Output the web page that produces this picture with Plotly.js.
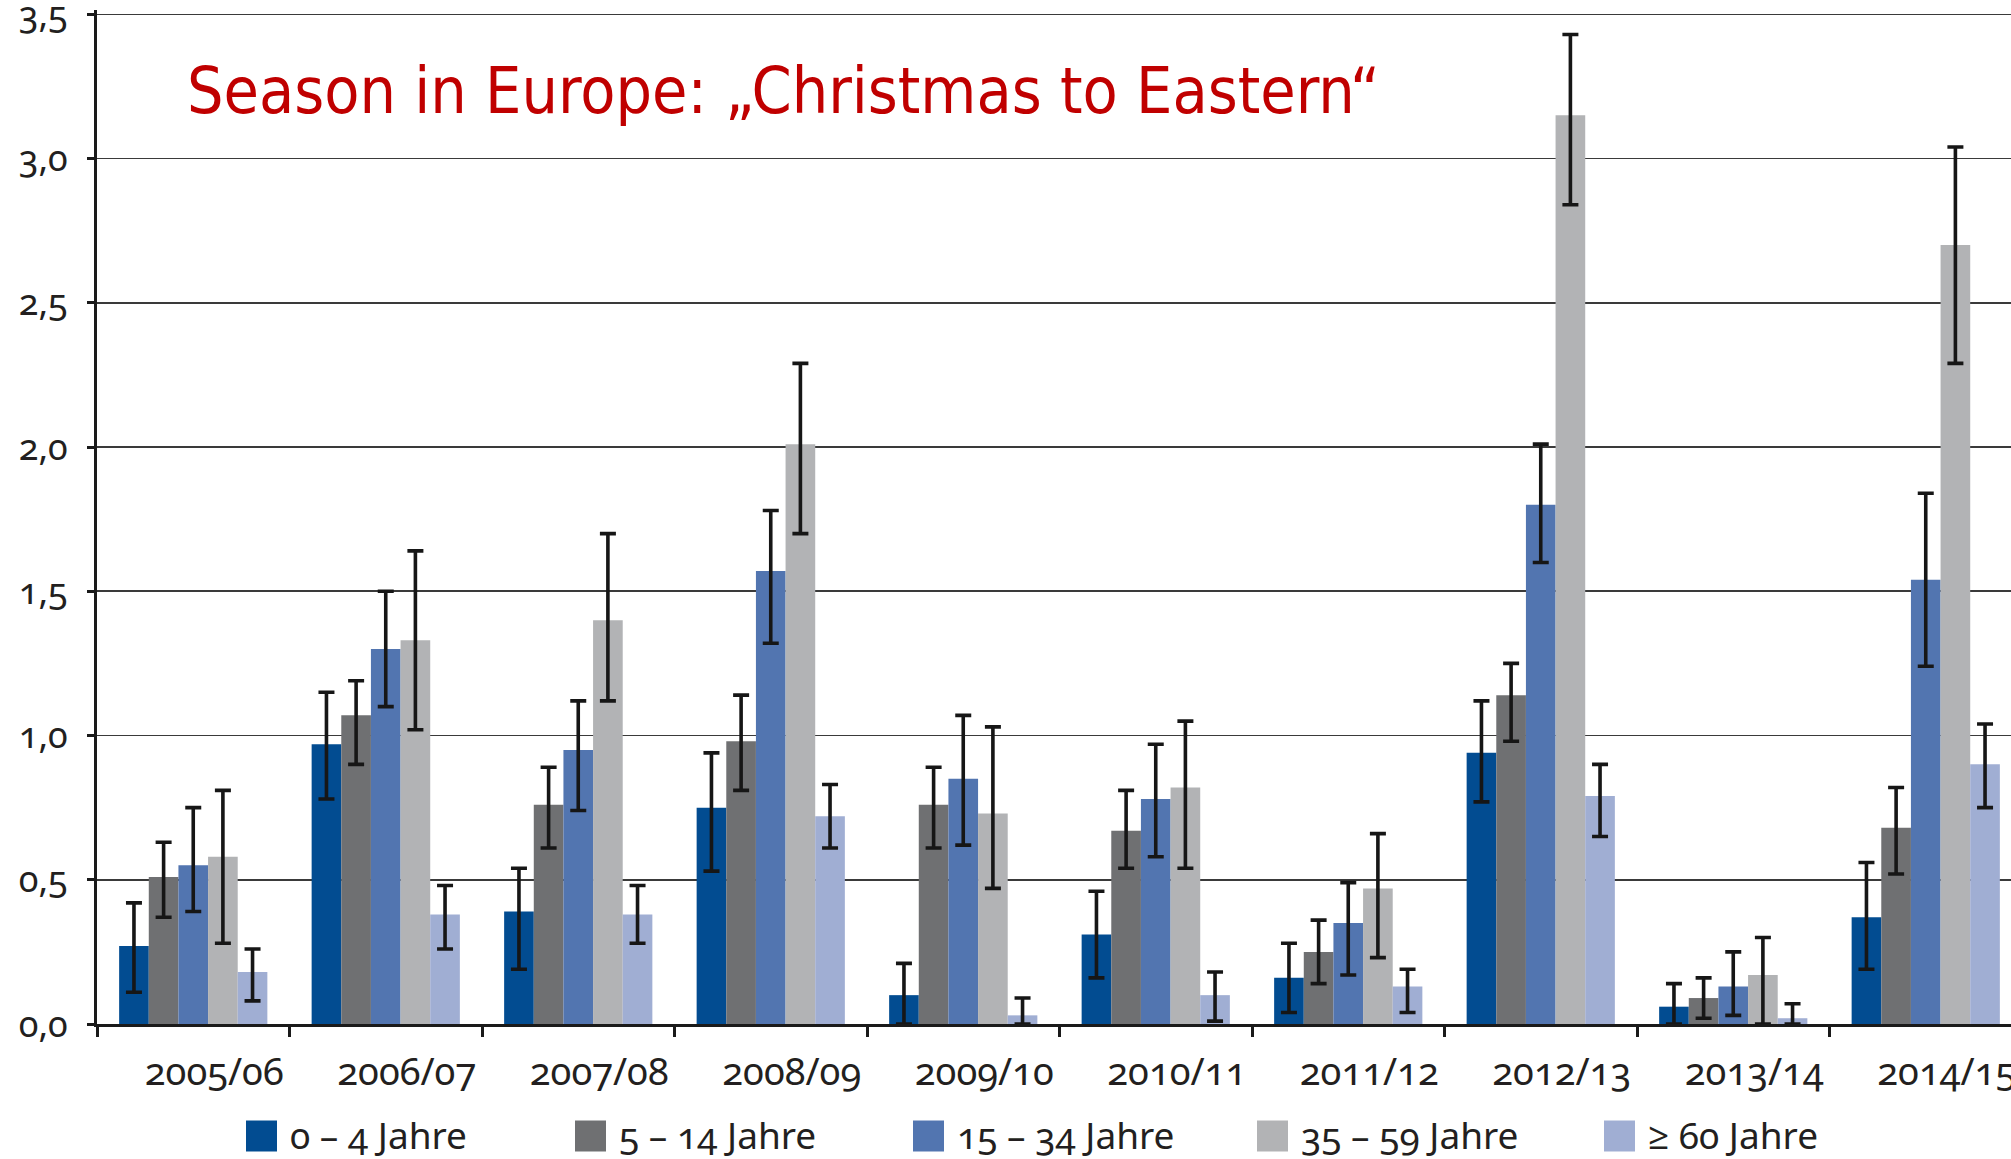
<!DOCTYPE html>
<html>
<head>
<meta charset="utf-8">
<script src="https://cdn.plot.ly/plotly-3.0.1.min.js"></script>
<style>
  html, body { margin: 0; padding: 0; overflow: hidden; background: #ffffff; }
  #chart { width: 2025px; height: 1159px; }
  .xtick text, .ytick text, .annotation-text { font-feature-settings: "onum" 1; }
</style>
</head>
<body>
<div id="chart"></div>
<script>
// ---------- data ----------
const seasons = ['2005/06','2006/07','2007/08','2008/09','2009/10','2010/11','2011/12','2012/13','2013/14','2014/15'];
const seriesNames = ['0 – 4 Jahre','5 – 14 Jahre','15 – 34 Jahre','35 – 59 Jahre','≥ 60 Jahre'];
const seriesColors = ['#024c91','#6f7072','#5275b0','#b2b3b5','#a0aed3'];

const age0_4      = [0.27, 0.97, 0.39, 0.75, 0.10, 0.31, 0.16, 0.94, 0.06, 0.37];
const age0_4Low   = [0.11, 0.78, 0.19, 0.53, 0.00, 0.16, 0.04, 0.77, 0.00, 0.19];
const age0_4High  = [0.42, 1.15, 0.54, 0.94, 0.21, 0.46, 0.28, 1.12, 0.14, 0.56];

const age5_14     = [0.51, 1.07, 0.76, 0.98, 0.76, 0.67, 0.25, 1.14, 0.09, 0.68];
const age5_14Low  = [0.37, 0.90, 0.61, 0.81, 0.61, 0.54, 0.14, 0.98, 0.02, 0.52];
const age5_14High = [0.63, 1.19, 0.89, 1.14, 0.89, 0.81, 0.36, 1.25, 0.16, 0.82];

const age15_34     = [0.55, 1.30, 0.95, 1.57, 0.85, 0.78, 0.35, 1.80, 0.13, 1.54];
const age15_34Low  = [0.39, 1.10, 0.74, 1.32, 0.62, 0.58, 0.17, 1.60, 0.03, 1.24];
const age15_34High = [0.75, 1.50, 1.12, 1.78, 1.07, 0.97, 0.49, 2.01, 0.25, 1.84];

const age35_59     = [0.58, 1.33, 1.40, 2.01, 0.73, 0.82, 0.47, 3.15, 0.17, 2.70];
const age35_59Low  = [0.28, 1.02, 1.12, 1.70, 0.47, 0.54, 0.23, 2.84, 0.00, 2.29];
const age35_59High = [0.81, 1.64, 1.70, 2.29, 1.03, 1.05, 0.66, 3.43, 0.30, 3.04];

const age60      = [0.18, 0.38, 0.38, 0.72, 0.03, 0.10, 0.13, 0.79, 0.02, 0.90];
const age60Low   = [0.08, 0.26, 0.28, 0.61, 0.00, 0.01, 0.04, 0.65, 0.00, 0.75];
const age60High  = [0.26, 0.48, 0.48, 0.83, 0.09, 0.18, 0.19, 0.90, 0.07, 1.04];

const yTickVals = [0, 0.5, 1.0, 1.5, 2.0, 2.5, 3.0, 3.5];
const titleText = 'Season in Europe: „Christmas to Eastern“';

// ---------- build ----------
const values = [age0_4, age5_14, age15_34, age35_59, age60];
const lows   = [age0_4Low, age5_14Low, age15_34Low, age35_59Low, age60Low];
const highs  = [age0_4High, age5_14High, age15_34High, age35_59High, age60High];

const traces = values.map((v, i) => ({
  type: 'bar',
  name: seriesNames[i],
  x: seasons,
  y: v,
  marker: { color: seriesColors[i], line: { width: 0 } },
  error_y: {
    type: 'data',
    symmetric: false,
    array: v.map((val, k) => highs[i][k] - val),
    arrayminus: v.map((val, k) => val - lows[i][k]),
    color: '#161616',
    thickness: 3.6,
    width: 8
  },
  showlegend: false,
  hoverinfo: 'x+y+name'
}));

const W = 2025, H = 1159;
const M = { l: 97, r: 3, t: 10, b: 135 };
const plotW = W - M.l - M.r, plotH = H - M.t - M.b;
const px2x = px => (px - M.l) / plotW;
const py2y = py => (H - M.b - py) / plotH;

// custom legend (large square swatches as in the original)
const legendSwatchX = [246, 575, 913, 1257, 1604];
const legendCenterY = 1136, sw = 31, textGap = 12;
const shapes = [], annotations = [];
seriesNames.forEach((name, i) => {
  const x0 = legendSwatchX[i];
  shapes.push({
    type: 'rect', xref: 'paper', yref: 'paper',
    x0: px2x(x0), x1: px2x(x0 + sw),
    y0: py2y(legendCenterY + sw / 2), y1: py2y(legendCenterY - sw / 2),
    fillcolor: seriesColors[i], line: { width: 0 }
  });
  annotations.push({
    xref: 'paper', yref: 'paper',
    x: px2x(x0 + sw + textGap), y: py2y(legendCenterY - 2),
    xanchor: 'left', yanchor: 'middle',
    text: name, showarrow: false, borderpad: 0,
    font: { family: 'Noto Sans, Open Sans, sans-serif', size: 37, color: '#231f20' }
  });
});

const layout = {
  width: W, height: H,
  margin: M,
  paper_bgcolor: '#ffffff', plot_bgcolor: '#ffffff',
  separators: ',.',
  barmode: 'group',
  bargap: 0.23,
  bargroupgap: 0,
  showlegend: false,
  title: {
    text: titleText,
    font: { family: 'DejaVu Sans Condensed, DejaVu Sans, sans-serif', size: 64, color: '#c00000' },
    xref: 'container', yref: 'container',
    x: 187 / W, xanchor: 'left',
    y: 1 - 91 / H, yanchor: 'middle'
  },
  xaxis: {
    type: 'category',
    tickson: 'boundaries',
    ticks: 'outside', ticklen: 10, tickwidth: 3, tickcolor: '#1a1a1a',
    showline: true, linewidth: 3, linecolor: '#1a1a1a',
    showgrid: false, zeroline: false,
    ticklabelshift: 21,
    ticklabelstandoff: 12,
    ticklabeloverflow: 'allow',
    tickfont: { family: 'Noto Sans, Open Sans, sans-serif', size: 38, color: '#231f20' }
  },
  yaxis: {
    range: [0, 3.515],
    tickvals: yTickVals,
    tickformat: '.1f',
    ticks: 'outside', ticklen: 7, tickwidth: 3, tickcolor: '#1a1a1a',
    showline: true, linewidth: 3, linecolor: '#1a1a1a',
    showgrid: true, gridcolor: '#3a3a3a', gridwidth: 1.6,
    zeroline: false,
    ticklabelstandoff: 12,
    ticklabeloverflow: 'allow',
    tickfont: { family: 'Noto Sans, Open Sans, sans-serif', size: 36, color: '#231f20' }
  },
  shapes: shapes,
  annotations: annotations
};

Plotly.newPlot('chart', traces, layout, { displayModeBar: false, staticPlot: true });
</script>
</body>
</html>
